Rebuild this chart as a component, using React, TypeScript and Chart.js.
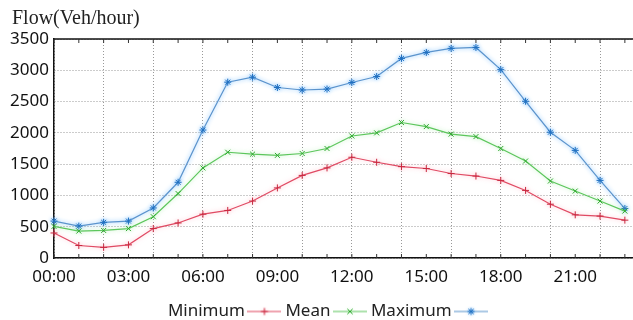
import React, { useEffect, useRef } from 'react';
import { Chart, registerables } from 'chart.js';

Chart.register(...registerables);

const titleText = 'Flow(Veh/hour)';
const hours = [0, 1, 2, 3, 4, 5, 6, 7, 8, 9, 10, 11, 12, 13, 14, 15, 16, 17, 18, 19, 20, 21, 22, 23];
const hourLabels = [
  '00:00', '01:00', '02:00', '03:00', '04:00', '05:00', '06:00', '07:00',
  '08:00', '09:00', '10:00', '11:00', '12:00', '13:00', '14:00', '15:00',
  '16:00', '17:00', '18:00', '19:00', '20:00', '21:00', '22:00', '23:00',
];
const seriesNames = ['Minimum', 'Mean', 'Maximum'];
const minimum = [400, 200, 170, 210, 470, 560, 700, 760, 910, 1120, 1320, 1440, 1610, 1530, 1460, 1430, 1350, 1310, 1240, 1080, 860, 690, 670, 605];
const mean = [505, 430, 440, 470, 660, 1030, 1440, 1690, 1660, 1640, 1670, 1750, 1950, 2000, 2165, 2100, 1980, 1940, 1750, 1550, 1230, 1070, 910, 750];
const maximum = [590, 510, 570, 590, 800, 1210, 2045, 2810, 2890, 2725, 2685, 2700, 2805, 2900, 3190, 3285, 3350, 3365, 3010, 2505, 2010, 1720, 1240, 790];
const yMin = 0;
const yMax = 3500;
const yStep = 500;

const FONT = '"Noto Sans", sans-serif';
const lineColors = ['#e04a63', '#5cc65c', '#5b93cc'];
const markColors = ['#c8283f', '#2ea82e', '#1f6fc0'];
const glowColors = ['rgba(255,150,170,0.55)', 'rgba(140,230,140,0.6)', 'rgba(110,185,255,0.95)'];
const pointStyles = ['cross', 'crossRot', 'star'];
const gridColor = 'rgba(0,0,0,0.4)';
const ICON_W = 34;

function makeIcon(i: number) {
  const c = document.createElement('canvas');
  c.width = ICON_W;
  c.height = 12;
  const g = c.getContext('2d')!;
  g.strokeStyle = lineColors[i];
  g.lineWidth = 1.2;
  g.beginPath();
  g.moveTo(0, 6);
  g.lineTo(ICON_W, 6);
  g.stroke();
  g.shadowColor = glowColors[i];
  g.shadowBlur = 3;
  g.strokeStyle = markColors[i];
  g.lineWidth = 1;
  const r = 3.5;
  const cx = ICON_W / 2, cy = 6;
  g.beginPath();
  if (i === 0 || i === 2) {
    g.moveTo(cx - r, cy); g.lineTo(cx + r, cy);
    g.moveTo(cx, cy - r); g.lineTo(cx, cy + r);
  }
  if (i === 1 || i === 2) {
    const d = r * 0.75;
    g.moveTo(cx - d, cy - d); g.lineTo(cx + d, cy + d);
    g.moveTo(cx - d, cy + d); g.lineTo(cx + d, cy - d);
  }
  g.stroke();
  return c;
}

export default function App() {
  const ref = useRef<HTMLCanvasElement>(null);

  useEffect(() => {
    const canvas = ref.current!;
    const series = [minimum, mean, maximum];
    const icons = [0, 1, 2].map(makeIcon);

    const decor = {
      id: 'decor',
      beforeDatasetDraw(chart: any, args: any) {
        const ctx = chart.ctx;
        ctx.save();
        ctx.shadowColor = glowColors[args.index];
        ctx.shadowBlur = 4;
      },
      afterDatasetDraw(chart: any) {
        chart.ctx.restore();
      },
      afterDraw(chart: any) {
        const { ctx, chartArea, scales } = chart;
        ctx.save();
        ctx.font = '20px "Liberation Serif", serif';
        ctx.fillStyle = '#222';
        ctx.textAlign = 'left';
        ctx.textBaseline = 'alphabetic';
        ctx.fillText(titleText, 12, 24);
        ctx.strokeStyle = '#111';
        ctx.lineWidth = 1.5;
        ctx.beginPath();
        ctx.moveTo(chartArea.left, chartArea.top);
        ctx.lineTo(chartArea.right, chartArea.top);
        ctx.stroke();
        ctx.lineWidth = 1;
        ctx.strokeStyle = '#333';
        ctx.beginPath();
        hours.forEach((h) => {
          const x = scales.x.getPixelForValue(h);
          ctx.moveTo(x, chartArea.top);
          ctx.lineTo(x, chartArea.top + 4);
          ctx.moveTo(x, chartArea.bottom);
          ctx.lineTo(x, chartArea.bottom - 4);
        });
        ctx.stroke();
        ctx.restore();
      },
    };

    const chart = new Chart(canvas, {
      type: 'line',
      data: {
        datasets: series.map((vals, i) => ({
          label: seriesNames[i],
          data: hours.map((h, k) => ({ x: h, y: vals[k] })),
          borderColor: lineColors[i],
          borderWidth: 1.2,
          pointStyle: pointStyles[i] as any,
          pointRadius: 3.5,
          pointBorderColor: markColors[i],
          pointBackgroundColor: markColors[i],
          pointBorderWidth: 1,
          tension: 0,
          fill: false,
          clip: false as any,
        })),
      },
      options: {
        responsive: false,
        animation: false,
        devicePixelRatio: 1,
        layout: { padding: { top: 39, left: 0, right: 0, bottom: 0 } },
        plugins: {
          title: { display: false },
          tooltip: { enabled: false },
          legend: {
            position: 'bottom',
            rtl: true,
            reverse: true,
            textDirection: 'ltr',
            labels: {
              usePointStyle: true,
              pointStyleWidth: 22,
              padding: 10,
              color: '#222',
              font: { family: FONT, size: 17 },
              generateLabels: (ch: any) =>
                ch.data.datasets.map((ds: any, i: number) => ({
                  text: ds.label,
                  pointStyle: icons[i],
                  fillStyle: 'transparent',
                  strokeStyle: 'transparent',
                  lineWidth: 0,
                  hidden: false,
                  datasetIndex: i,
                  fontColor: '#222',
                })),
            },
          },
        },
        scales: {
          x: {
            type: 'linear',
            min: 0,
            max: 23.65,
            afterFit: (s: any) => { s.height = 35; },
            ticks: {
              stepSize: 1,
              autoSkip: false,
              maxRotation: 0,
              padding: 9,
              color: '#111',
              font: { family: FONT, size: 17 },
              callback: (v: any) => (Number.isInteger(v) && v % 3 === 0 ? hourLabels[v] : ''),
            },
            grid: {
              drawTicks: false,
              lineWidth: 1,
              color: (c: any) => (c.tick && Number.isInteger(c.tick.value) && c.tick.value % 2 === 0 ? gridColor : 'rgba(0,0,0,0)'),
            },
            border: { display: true, color: '#111', width: 1.5, dash: [1, 2] },
          },
          y: {
            min: yMin,
            max: yMax,
            afterFit: (s: any) => { s.width = 54; },
            ticks: {
              stepSize: yStep,
              padding: 5,
              color: '#111',
              font: { family: FONT, size: 17 },
              callback: (v: any) => String(v),
            },
            grid: { drawTicks: false, lineWidth: 1, color: gridColor },
            border: { display: true, color: '#111', width: 1.5, dash: [1, 2] },
          },
        },
      },
      plugins: [decor],
    });

    return () => chart.destroy();
  }, []);

  return (
    <div style={{ position: 'fixed', left: 0, top: 0, width: 633, height: 320, overflow: 'hidden', background: '#fff' }}>
      <canvas ref={ref} width={650} height={330} style={{ display: 'block', width: 650, height: 330 }} />
    </div>
  );
}
